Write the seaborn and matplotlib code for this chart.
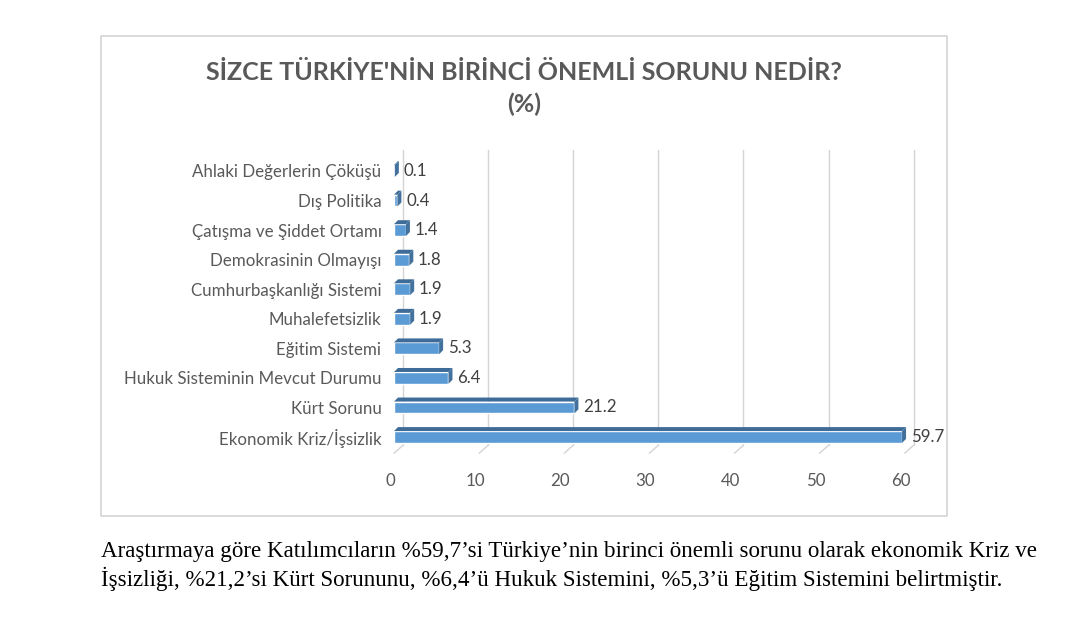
import numpy as np
import matplotlib
matplotlib.use('Agg')
import matplotlib.pyplot as plt
import matplotlib.transforms as mtransforms
from matplotlib.patches import Polygon, Rectangle
import seaborn as sns

# chart data
categories = ["Ahlaki Değerlerin Çöküşü", "Dış Politika", "Çatışma ve Şiddet Ortamı",
              "Demokrasinin Olmayışı", "Cumhurbaşkanlığı Sistemi", "Muhalefetsizlik",
              "Eğitim Sistemi", "Hukuk Sisteminin Mevcut Durumu", "Kürt Sorunu",
              "Ekonomik Kriz/İşsizlik"]
values = [0.1, 0.4, 1.4, 1.8, 1.9, 1.9, 5.3, 6.4, 21.2, 59.7]
xticks = [0, 10, 20, 30, 40, 50, 60]

title_lines = ["SİZCE TÜRKİYE'NİN BİRİNCİ ÖNEMLİ SORUNU NEDİR?", "(%)"]
caption_lines = [
    "Araştırmaya göre Katılımcıların %59,7’si Türkiye’nin birinci önemli sorunu olarak ekonomik Kriz ve",
    "İşsizliği, %21,2’si Kürt Sorununu, %6,4’ü Hukuk Sistemini, %5,3’ü Eğitim Sistemini belirtmiştir.",
]

sns.set_style('white')
plt.rcParams['font.family'] = ['Lato', 'DejaVu Sans']

W, H = 1076, 633
fig = plt.figure(figsize=(W / 100, H / 100), dpi=100)

# axes placement (pixels)
x0_px, x60_px = 394, 904.6
ytop_lim, ybot_lim = -0.75, 9.6
ytop_px = 171 - 0.75 * 29.56
ybot_px = 437 + 0.6 * 29.56
ax = fig.add_axes([x0_px / W, 1 - ybot_px / H, (x60_px - x0_px) / W, (ybot_px - ytop_px) / H])

front = '#5B9BD5'
top_c = '#3E6C98'
side_c = '#41719C'
grid_c = '#D4D4D4'
text_c = '#595959'
fs = 12.2

sns.barplot(x=values, y=categories, orient='h', color=front, width=0.4,
            saturation=1, ax=ax, zorder=3)
ax.set_xlim(0, 60)
ax.set_ylim(ybot_lim, ytop_lim)
for s in ax.spines.values():
    s.set_visible(False)
ax.set_xlabel('')
ax.set_ylabel('')

# back wall grid (3D look)
back_dx, back_dy = 9, 8
back = mtransforms.ScaledTranslation(back_dx / 100, back_dy / 100, fig.dpi_scale_trans)
for v in xticks:
    ax.plot([v, v], [-0.45, 9.55], transform=ax.transData + back, color=grid_c,
            lw=1, clip_on=False, zorder=0)
    p_front = ax.transData.transform((v, 9.55))
    ax.plot([p_front[0], p_front[0] + back_dx], [p_front[1], p_front[1] + back_dy],
            transform=mtransforms.IdentityTransform(), color=grid_c, lw=1,
            clip_on=False, zorder=0)

# 3D faces of bars
ddx, ddy = 4, 4
inv = ax.transData.inverted()
for patch in ax.patches:
    bx, by = patch.get_x(), patch.get_y()
    bw, bh = patch.get_width(), patch.get_height()
    tl = ax.transData.transform((bx, by))
    tr = ax.transData.transform((bx + bw, by))
    br = ax.transData.transform((bx + bw, by + bh))
    top_pts = [tl, tr, tr + [ddx, ddy], tl + [ddx, ddy]]
    side_pts = [tr, br, br + [ddx, ddy], tr + [ddx, ddy]]
    ax.add_patch(Polygon(inv.transform(top_pts), closed=True, facecolor=top_c,
                         edgecolor='none', zorder=3, clip_on=False))
    ax.add_patch(Polygon(inv.transform(side_pts), closed=True, facecolor=side_c,
                         edgecolor='none', zorder=3, clip_on=False))

# data labels
for i, v in enumerate(values):
    ax.annotate(f"{v:.1f}", (v, i), xytext=(6.3, 0), textcoords='offset points',
                va='center', ha='left', fontsize=fs, color='#404040')

ax.set_xticks(xticks)
ax.set_xticklabels([str(t) for t in xticks])
ax.tick_params(axis='x', length=0, pad=13, labelsize=fs, labelcolor=text_c)
ax.tick_params(axis='y', length=0, pad=9, labelsize=fs, labelcolor=text_c)
shift = mtransforms.ScaledTranslation(-4 / 100, 0, fig.dpi_scale_trans)
for lbl in ax.get_xticklabels():
    lbl.set_transform(lbl.get_transform() + shift)

# chart frame
fig.patches.append(Rectangle((101 / W, 1 - 516 / H), (947 - 101) / W, (516 - 36) / H,
                             transform=fig.transFigure, fill=False, edgecolor=grid_c, lw=1.2))

# title
fig.text(524 / W, 1 - 72 / H, title_lines[0], ha='center', va='center',
         fontsize=18, fontweight='bold', color=text_c)
fig.text(524 / W, 1 - 104 / H, title_lines[1], ha='center', va='center',
         fontsize=18, fontweight='bold', color=text_c)

# caption
for k, line in enumerate(caption_lines):
    fig.text(101 / W, 1 - (551 + 28 * k) / H, line, ha='left', va='center',
             fontsize=16.55, color='black', family=['Liberation Serif', 'DejaVu Serif'])

fig.savefig('out.png', dpi=100)
